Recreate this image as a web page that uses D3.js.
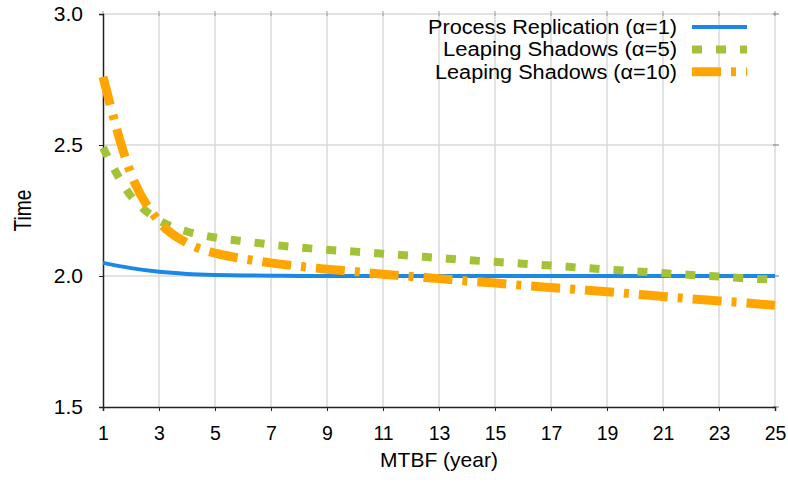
<!DOCTYPE html>
<html>
<head>
<meta charset="utf-8">
<script src="https://cdn.jsdelivr.net/npm/d3@7"></script>
<style>
  body { margin: 0; background: #fff; }
  svg text { font-family: "Liberation Sans", Arial, Helvetica, sans-serif; fill: #000; }
</style>
</head>
<body>
<svg class="svg" width="788" height="482"></svg>
<script>
// MTBF in years
const mtbf = d3.range(1, 26);
const xTicks = [1, 3, 5, 7, 9, 11, 13, 15, 17, 19, 21, 23, 25];
const yTicks = [1.5, 2.0, 2.5, 3.0];

const replication = [2.05, 2.03, 2.016, 2.008, 2.004, 2.002, 2.001, 2.0, 2.0, 2.0, 2.0, 2.0, 2.0,
  2.0, 2.0, 2.0, 2.0, 2.0, 2.0, 2.0, 2.0, 2.0, 2.0, 2.0, 2.0];
const shadows5 = [2.49, 2.305, 2.213, 2.17, 2.147, 2.133, 2.12, 2.109, 2.1, 2.093, 2.085, 2.077, 2.069,
  2.061, 2.054, 2.047, 2.04, 2.032, 2.025, 2.018, 2.011, 2.004, 1.998, 1.991, 1.986];
const shadows10 = [2.76, 2.39, 2.208, 2.126, 2.087, 2.066, 2.05, 2.037, 2.026, 2.017, 2.007, 1.998, 1.99,
  1.981, 1.973, 1.964, 1.956, 1.948, 1.94, 1.931, 1.922, 1.913, 1.905, 1.897, 1.888];

const seriesNames = ["Process Replication (\u03b1=1)", "Leaping Shadows (\u03b1=5)", "Leaping Shadows (\u03b1=10)"];
const seriesColors = ["#1b88e6", "#a3c237", "#ffa500"];
const seriesWidths = [4, 8, 9];
const seriesDash = [null, "10,14", "29,10,5,10"];

const margin = { top: 14, right: 13, bottom: 75, left: 103 };
const width = 788 - margin.left - margin.right;
const height = 482 - margin.top - margin.bottom;

const svg = d3.select('.svg');
const chart = svg.append('g').attr('transform', `translate(${margin.left},${margin.top})`);

const x = d3.scaleLinear().domain([1, 25]).range([0, width]);
const y = d3.scaleLinear().domain([1.5, 3.0]).range([height, 0]);

// grid
chart.append('g').selectAll('line').data(xTicks.slice(1)).join('line')
  .attr('x1', d => x(d)).attr('x2', d => x(d))
  .attr('y1', 0).attr('y2', height)
  .attr('stroke', '#d8d8d8').attr('stroke-width', 1.5);
chart.append('g').selectAll('line').data(yTicks.slice(1)).join('line')
  .attr('x1', 0).attr('x2', width)
  .attr('y1', d => y(d)).attr('y2', d => y(d))
  .attr('stroke', '#d8d8d8').attr('stroke-width', 1.5);

// mirror ticks on top and right
chart.append('g').selectAll('line').data(xTicks).join('line')
  .attr('x1', d => x(d)).attr('x2', d => x(d))
  .attr('y1', -3).attr('y2', 2)
  .attr('stroke', '#999').attr('stroke-width', 1);
chart.append('g').selectAll('line').data(yTicks).join('line')
  .attr('x1', width - 2).attr('x2', width + 4)
  .attr('y1', d => y(d)).attr('y2', d => y(d))
  .attr('stroke', '#777').attr('stroke-width', 1);

// axes
const xAxis = chart.append('g')
  .attr('transform', `translate(0,${height})`)
  .call(d3.axisBottom(x).tickValues(xTicks).tickSize(4).tickPadding(15).tickFormat(d3.format('d')));
xAxis.select('.domain').attr('stroke', '#222').attr('stroke-width', 1.5);
xAxis.selectAll('.tick line').attr('stroke', '#222');
xAxis.selectAll('.tick text').attr('font-size', 19.5).style('font-family', '"Liberation Sans", Arial, sans-serif');

const yAxis = chart.append('g')
  .call(d3.axisLeft(y).tickValues(yTicks).tickSize(4).tickPadding(16).tickFormat(d3.format('.1f')));
yAxis.select('.domain').attr('stroke', '#222').attr('stroke-width', 1.5);
yAxis.selectAll('.tick line').attr('stroke', '#222');
yAxis.selectAll('.tick text').attr('font-size', 21).style('font-family', '"Liberation Sans", Arial, sans-serif');

svg.append('text')
  .attr('x', margin.left + width / 2).attr('y', 467)
  .attr('text-anchor', 'middle').attr('font-size', 21)
  .text('MTBF (year)');
svg.append('text')
  .attr('transform', `translate(31,${margin.top + height / 2}) rotate(-90) scale(0.8,1)`)
  .attr('text-anchor', 'middle').attr('font-size', 24)
  .text('Time');

// lines
const allSeries = [replication, shadows5, shadows10];
const line = d3.line().x((d, i) => x(mtbf[i])).y(d => y(d)).curve(d3.curveMonotoneX);

chart.append('g').selectAll('path').data(allSeries).join('path')
  .attr('d', d => line(d))
  .attr('fill', 'none')
  .attr('stroke', (d, i) => seriesColors[i])
  .attr('stroke-width', (d, i) => seriesWidths[i])
  .attr('stroke-dasharray', (d, i) => seriesDash[i]);

// legend
const legend = svg.append('g').selectAll('g').data(seriesNames).join('g')
  .attr('transform', (d, i) => `translate(0,${27 + i * 22.4})`);
legend.append('text')
  .attr('x', 677).attr('y', 7)
  .attr('text-anchor', 'end').attr('font-size', 20)
  .attr('textLength', (d, i) => [249, 234, 242][i])
  .attr('lengthAdjust', 'spacingAndGlyphs')
  .text(d => d);
legend.append('line')
  .attr('x1', 692).attr('x2', 747).attr('y1', 0).attr('y2', 0)
  .attr('stroke', (d, i) => seriesColors[i])
  .attr('stroke-width', (d, i) => seriesWidths[i])
  .attr('stroke-dasharray', (d, i) => seriesDash[i]);
</script>
</body>
</html>
